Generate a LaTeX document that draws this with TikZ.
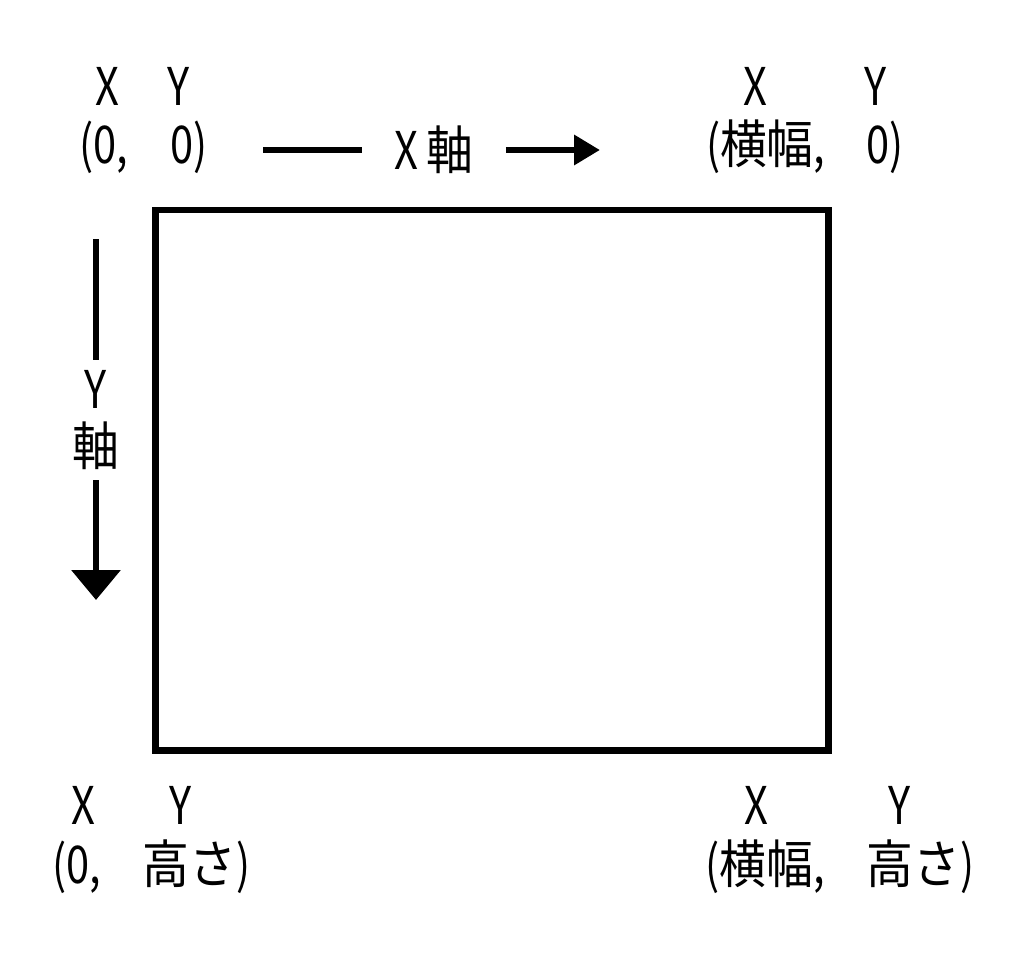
\documentclass[tikz,border=0pt]{standalone}
\usepackage{fontspec}
\setmainfont{Noto Sans CJK JP}[FakeStretch=0.8]
\newfontfamily\kanji{Noto Sans CJK JP}[FakeStretch=0.9]
\usetikzlibrary{arrows.meta}
\tikzset{
  textoBase/.style={
    font=\fontsize{29.6pt}{32.4pt}\selectfont,
    inner sep=0pt, anchor=base
  },
  etiquetaEje/.style={
    font=\fontsize{29.6pt}{32.4pt}\selectfont,
    inner sep=0pt, align=center, fill=white
  },
  trazo/.style={line width=3.8pt, black},
  flecha/.style={trazo, -{Triangle[length=5.2mm, width=5.8mm]}},
  flechaAncha/.style={trazo, -{Triangle[length=6mm, width=9.6mm]}},
}

\begin{document}
\begin{tikzpicture}[x=0.02cm, y=-0.02cm]
    \useasboundingbox (0,0) rectangle (1032,960);

    \coordinate (esqSI) at (155.7,210);
    \coordinate (esqID) at (828.3,750.8);
    \draw[trazo] (esqSI) rectangle (esqID);

    \node[textoBase] (x1) at (107,105) {X};
    \node[textoBase] (y1) at (179,105) {Y};
    \node[textoBase] (p1) at (143.5,163) {(0,　0)};
    \node[textoBase] (x2) at (755.5,105) {X};
    \node[textoBase] (y2) at (875.5,105) {Y};
    \node[textoBase] (p2) at (805,163) {({\kanji 横幅},　0)};
    \node[textoBase] (x3) at (83,824) {X};
    \node[textoBase] (y3) at (181,824) {Y};
    \node[textoBase] (p3) at (151.5,883) {(0,　{\kanji 高さ})};
    \node[textoBase] (x4) at (756,824) {X};
    \node[textoBase] (y4) at (900,824) {Y};
    \node[textoBase] (p4) at (840,883) {({\kanji 横幅},　{\kanji 高さ})};

    \coordinate (ejeXini) at (263,150);
    \coordinate (ejeXfin) at (600,150);
    \node[etiquetaEje, minimum width=2.86cm] (ejeX) at (434,150) {X\,{\kanji 軸}};
    \draw[trazo] (ejeXini) -- (ejeX);
    \draw[flecha] (ejeX) -- (ejeXfin);

    \coordinate (ejeYini) at (96,239);
    \coordinate (ejeYfin) at (96,600);
    \node[etiquetaEje, minimum height=2.4cm] (ejeY) at (96,420) {Y\\{\kanji 軸}};
    \draw[trazo] (ejeYini) -- (ejeY);
    \draw[flechaAncha] (ejeY) -- (ejeYfin);
  \end{tikzpicture}
\end{document}
